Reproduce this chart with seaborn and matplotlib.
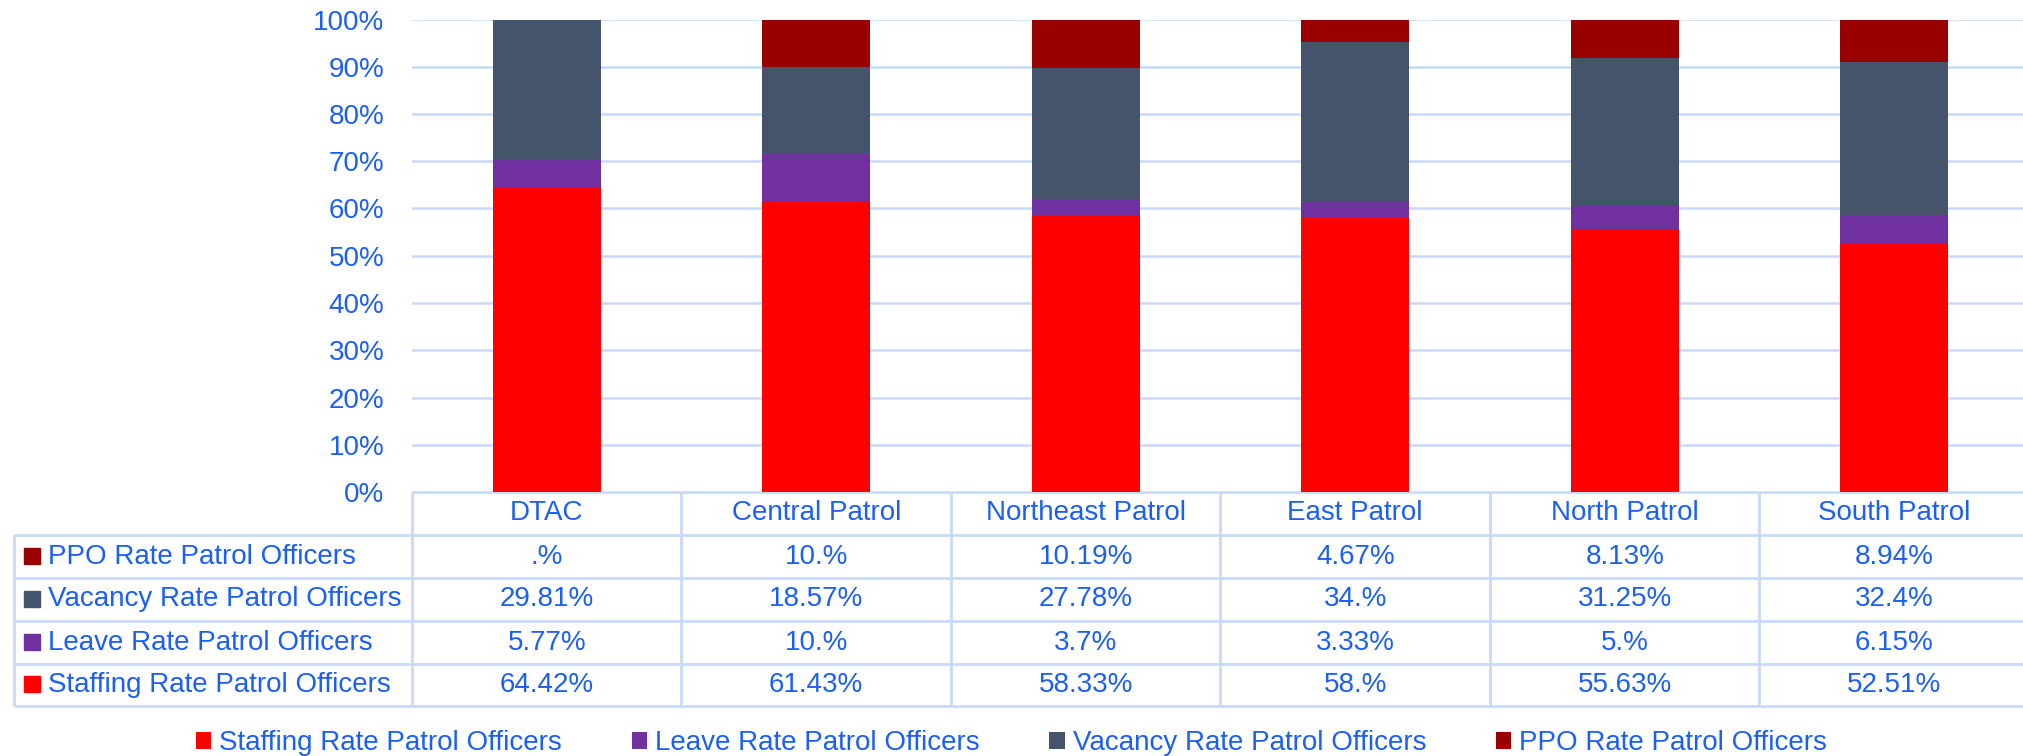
import numpy as np
import pandas as pd
import matplotlib
matplotlib.use('Agg')
import matplotlib.pyplot as plt
from matplotlib import font_manager
from matplotlib.patches import Patch
import seaborn as sns

# data (percent of patrol officers)
patrols = ['DTAC', 'Central Patrol', 'Northeast Patrol', 'East Patrol', 'North Patrol', 'South Patrol']
staffing = [64.42, 61.43, 58.33, 58.0, 55.63, 52.51]
leave = [5.77, 10.0, 3.7, 3.33, 5.0, 6.15]
vacancy = [29.81, 18.57, 27.78, 34.0, 31.25, 32.4]
ppo = [0.0, 10.0, 10.19, 4.67, 8.13, 8.94]

series_names = ['Staffing Rate Patrol Officers', 'Leave Rate Patrol Officers',
                'Vacancy Rate Patrol Officers', 'PPO Rate Patrol Officers']
series_colors = ['#FF0000', '#7030A0', '#44546A', '#990000']
yticks = [0, 10, 20, 30, 40, 50, 60, 70, 80, 90, 100]

TEXT = '#1C5FF5'
GRID = '#C9D9F8'

sns.set_style('white')
names = {f.name for f in font_manager.fontManager.ttflist}
fam = 'Liberation Sans Narrow' if 'Liberation Sans Narrow' in names else 'Liberation Sans'
plt.rcParams['font.family'] = [fam, 'DejaVu Sans']
FS = 20


# excel style "#.##%" format
def fmt(v):
    s = f'{v:.2f}'.rstrip('0')
    if s.startswith('0.'):
        s = s[1:]
    return s + '%'


W, H = 2023, 756
fig = plt.figure(figsize=(W / 100, H / 100), dpi=100)

x0, colw = 412, 269.5
y_top, y_zero = 19.5, 492
ax = fig.add_axes([x0 / W, 1 - y_zero / H, 6 * colw / W, (y_zero - y_top) / H])

# stacked bars: draw cumulative tops from highest to lowest
values = [staffing, leave, vacancy, ppo]
cum = np.cumsum(np.array(values), axis=0)
for i in range(3, -1, -1):
    df = pd.DataFrame({'patrol': patrols, 'top': cum[i]})
    sns.barplot(data=df, x='patrol', y='top', order=patrols, color=series_colors[i],
                saturation=1, width=0.4, ax=ax, edgecolor='none', linewidth=0)

ax.set_xlim(-0.5, 5.5)
ax.set_ylim(0, 100)
ax.set_yticks(yticks)
ax.set_yticklabels([f'{t}%' for t in yticks], color=TEXT, fontsize=FS)
ax.tick_params(axis='y', length=0, pad=20)
ax.set_xticks([])
ax.set_xlabel('')
ax.set_ylabel('')
ax.yaxis.grid(True, color=GRID, linewidth=1.8)
ax.set_axisbelow(True)
for sp in ax.spines.values():
    sp.set_visible(False)

# data table below the plot, in pixel coordinates
tab = fig.add_axes([0, 0, 1, 1], zorder=-1)
tab.set_xlim(0, W)
tab.set_ylim(H, 0)
tab.axis('off')

row_edges = [492, 535, 578, 621, 664, 706]
x_left = 14
x_right = x0 + 6 * colw
lc = dict(color=GRID, linewidth=2, solid_capstyle='butt')
tab.plot([x0, x_right], [row_edges[0]] * 2, **lc)
for y in row_edges[1:]:
    tab.plot([x_left, x_right], [y, y], **lc)
tab.plot([x_left, x_left], [row_edges[1], row_edges[-1]], **lc)
for j in range(7):
    xx = x0 + j * colw
    tab.plot([xx, xx], [row_edges[0], row_edges[-1]], **lc)

for j, p in enumerate(patrols):
    tab.text(x0 + (j + 0.5) * colw, (row_edges[0] + row_edges[1]) / 2, p,
             ha='center', va='center', color=TEXT, fontsize=FS)

table_order = [3, 2, 1, 0]  # PPO, Vacancy, Leave, Staffing
for r, si in enumerate(table_order):
    yc = (row_edges[r + 1] + row_edges[r + 2]) / 2
    tab.add_patch(plt.Rectangle((24, yc - 9), 16, 16, color=series_colors[si]))
    tab.text(48, yc, series_names[si], ha='left', va='center', color=TEXT, fontsize=FS)
    for j in range(6):
        tab.text(x0 + (j + 0.5) * colw, yc, fmt(values[si][j]),
                 ha='center', va='center', color=TEXT, fontsize=FS)

handles = [Patch(facecolor=c, edgecolor='none') for c in series_colors]
leg = fig.legend(handles, series_names, loc='center', bbox_to_anchor=(0.5, 1 - 743 / H),
                 ncol=4, frameon=False, fontsize=FS, handlelength=0.55, handleheight=0.55,
                 handletextpad=0.3, columnspacing=2.5)
for t in leg.get_texts():
    t.set_color(TEXT)

fig.savefig('out.png', dpi=100)
